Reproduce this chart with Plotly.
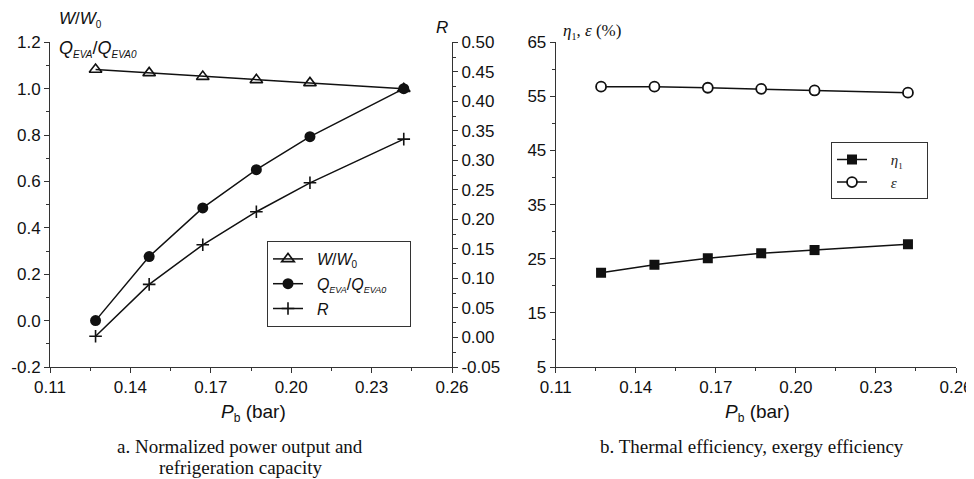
import plotly.graph_objects as go

# ---- data ----
pb = [0.127, 0.147, 0.167, 0.187, 0.207, 0.242]
w_ratio = [1.083, 1.068, 1.052, 1.038, 1.025, 1.000]
q_ratio = [0.000, 0.276, 0.486, 0.651, 0.793, 1.000]
r_vals = [0.002, 0.090, 0.157, 0.213, 0.262, 0.336]
eta1 = [22.4, 23.9, 25.1, 26.0, 26.6, 27.7]
eps = [56.8, 56.8, 56.6, 56.4, 56.1, 55.7]

# tick labels
x_ticks = [0.11, 0.14, 0.17, 0.20, 0.23, 0.26]
x_labels = ["0.11", "0.14", "0.17", "0.20", "0.23", "0.26"]
yl_ticks = [-0.2, 0.0, 0.2, 0.4, 0.6, 0.8, 1.0, 1.2]
yl_labels = ["-0.2", "0.0", "0.2", "0.4", "0.6", "0.8", "1.0", "1.2"]
yr_ticks = [-0.05, 0.0, 0.05, 0.10, 0.15, 0.20, 0.25, 0.30, 0.35, 0.40, 0.45, 0.50]
yr_labels = ["-0.05", "0.00", "0.05", "0.10", "0.15", "0.20", "0.25", "0.30", "0.35", "0.40", "0.45", "0.50"]
yb_ticks = [5, 15, 25, 35, 45, 55, 65]
yb_labels = ["5", "15", "25", "35", "45", "55", "65"]

# page has an 8px body margin: figure occupies window pixels 8..974 x 8..479
OFF = 8
W, H = 974 - OFF, 479 - OFF
def px(x): return (x - OFF) / W
def py(y): return 1 - (y - OFF) / H

BLACK = "#111111"
AX = "#333333"
SANS = "Liberation Sans, Arial, sans-serif"
SERIF = "Liberation Serif, Times New Roman, serif"
NB = "&nbsp;"

def sub(t, size):
    return f"<sub><span style='font-size:{size}px'>{t}</span></sub>"

fig = go.Figure()

line = dict(color=BLACK, width=1.5)
fig.add_trace(go.Scatter(x=pb, y=w_ratio, mode="lines+markers", name=NB * 2 + "<i>W</i>/<i>W</i>" + sub("0", 10),
                         line=line, marker=dict(symbol="triangle-up-open", size=11, color=BLACK, line=dict(width=1.6, color=BLACK)),
                         xaxis="x", yaxis="y", legend="legend", legendgroup="a"))
fig.add_trace(go.Scatter(x=pb, y=q_ratio, mode="lines+markers",
                         name=NB * 2 + "<i>Q</i>" + sub("<i>EVA</i>", 9) + "/<i>Q</i>" + sub("<i>EVA0</i>", 9) + NB * 4,
                         line=line, marker=dict(symbol="circle", size=11, color=BLACK),
                         xaxis="x", yaxis="y", legend="legend", legendgroup="b"))
fig.add_trace(go.Scatter(x=pb, y=r_vals, mode="lines+markers", name=NB * 2 + "<i>R</i>",
                         line=line, marker=dict(symbol="cross-thin-open", size=9, color=BLACK, line=dict(width=1.6, color=BLACK)),
                         xaxis="x", yaxis="y2", legend="legend", legendgroup="c"))
fig.add_trace(go.Scatter(x=pb, y=eta1, mode="lines+markers", name=NB * 5 + "<i>η</i>" + sub("1", 9) + NB * 5,
                         line=line, marker=dict(symbol="square", size=10, color=BLACK),
                         xaxis="x3", yaxis="y3", legend="legend2", legendgroup="d"))
fig.add_trace(go.Scatter(x=pb, y=eps, mode="lines+markers", name=NB * 5 + "<i>ε</i>",
                         line=line, marker=dict(symbol="circle", size=10, color="white", line=dict(width=1.8, color=BLACK)),
                         xaxis="x3", yaxis="y3", legend="legend2", legendgroup="e"))

tickfont = dict(family=SANS, size=17, color=BLACK)
common = dict(showline=True, linecolor=AX, linewidth=1, ticks="outside", ticklen=5, tickcolor=AX,
              showgrid=False, zeroline=False, tickfont=tickfont, automargin=False, tickmode="array",
              ticklabeloverflow="allow")

fig.update_layout(
    template="none",
    width=W, height=H,
    margin=dict(l=0, r=0, t=0, b=0, pad=0),
    paper_bgcolor="white", plot_bgcolor="white",
    showlegend=True,
    xaxis=dict(domain=[px(50), px(452)], range=[0.11, 0.26], tickvals=x_ticks, ticktext=x_labels,
               minor=dict(tickmode="linear", tick0=0.11, dtick=0.015, ticklen=3, ticks="outside", tickcolor=AX), anchor="y", **common),
    yaxis=dict(domain=[py(367), py(42.3)], range=[-0.2, 1.2], tickvals=yl_ticks, ticktext=yl_labels,
               minor=dict(tickmode="linear", tick0=-0.2, dtick=0.1, ticklen=3, ticks="outside", tickcolor=AX), anchor="x", **common),
    yaxis2=dict(range=[-0.05, 0.50], tickvals=yr_ticks, ticktext=yr_labels, overlaying="y", side="right",
                anchor="x", minor=dict(tickmode="linear", tick0=-0.05, dtick=0.025, ticklen=3, ticks="outside", tickcolor=AX), **common),
    xaxis3=dict(domain=[px(555.7), px(956)], range=[0.11, 0.26], tickvals=x_ticks, ticktext=x_labels,
                minor=dict(tickmode="linear", tick0=0.11, dtick=0.015, ticklen=3, ticks="outside", tickcolor=AX), anchor="y3", **common),
    yaxis3=dict(domain=[py(367), py(42.3)], range=[5, 65], tickvals=yb_ticks, ticktext=yb_labels,
                minor=dict(tickmode="linear", tick0=5, dtick=5, ticklen=3, ticks="outside", tickcolor=AX), anchor="x3", **common),
    legend=dict(x=px(267), y=py(241), xanchor="left", yanchor="top", bordercolor=AX, borderwidth=1,
                bgcolor="white", font=dict(family=SANS, size=16, color=BLACK), tracegroupgap=1),
    legend2=dict(x=px(831), y=py(142.3), xanchor="left", yanchor="top", bordercolor=AX, borderwidth=1,
                 bgcolor="white", font=dict(family=SERIF, size=15, color="#222222"), tracegroupgap=0),
)

ann = [
    dict(x=px(57), y=py(20), text="<i>W</i>/<i>W</i>" + sub("0", 10), xanchor="left", font=dict(family=SANS, size=17)),
    dict(x=px(57), y=py(49), text="<i>Q</i>" + sub("<i>EVA</i>", 10) + "/<i>Q</i>" + sub("<i>EVA0</i>", 10), xanchor="left", font=dict(family=SANS, size=18)),
    dict(x=px(442), y=py(28), text="<i>R</i>", xanchor="center", font=dict(family=SANS, size=17)),
    dict(x=px(561), y=py(32), text="<i>η</i>" + sub("1", 10) + ", <i>ε</i> (%)", xanchor="left", font=dict(family=SERIF, size=17)),
    dict(x=px(253), y=py(413), text="<i>P</i>" + sub("b", 12) + " (bar)", xanchor="center", font=dict(family=SANS, size=19)),
    dict(x=px(757), y=py(413), text="<i>P</i>" + sub("b", 12) + " (bar)", xanchor="center", font=dict(family=SANS, size=19)),
    dict(x=px(240), y=py(446), text="a. Normalized power output and", xanchor="center", font=dict(family=SERIF, size=19)),
    dict(x=px(240), y=py(467), text="refrigeration capacity", xanchor="center", font=dict(family=SERIF, size=19)),
    dict(x=px(752), y=py(446), text="b. Thermal efficiency, exergy efficiency", xanchor="center", font=dict(family=SERIF, size=19)),
]
for a in ann:
    a.update(xref="paper", yref="paper", yanchor="middle", showarrow=False)
    a["font"]["color"] = BLACK
fig.update_layout(annotations=ann)

fig.write_html("out.html")
